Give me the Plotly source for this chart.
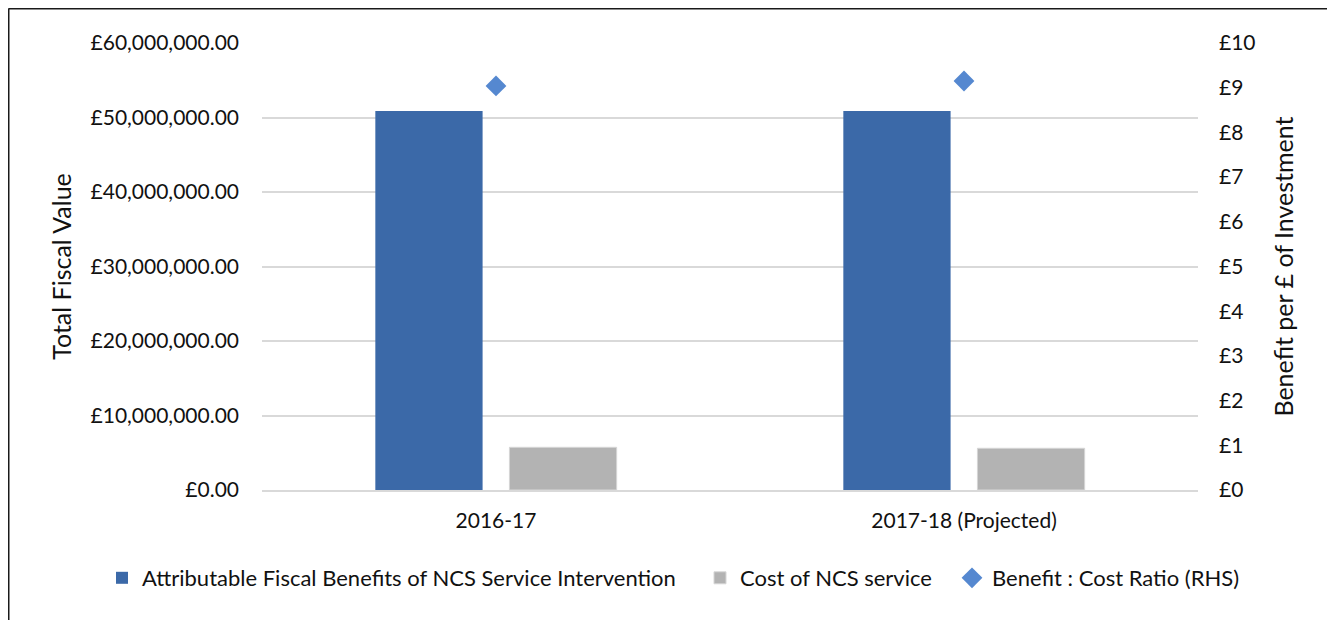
import plotly.graph_objects as go

categories = ["2016-17", "2017-18 (Projected)"]
benefits = [50870000, 50870000]
costs = [5730000, 5600000]
ratio = [9.04, 9.15]
left_ticks = [0, 10000000, 20000000, 30000000, 40000000, 50000000, 60000000]
left_labels = ["£0.00", "£10,000,000.00", "£20,000,000.00", "£30,000,000.00",
               "£40,000,000.00", "£50,000,000.00", "£60,000,000.00"]
right_ticks = list(range(0, 11))
right_labels = ["£" + str(v) for v in right_ticks]

# page has an 8px body margin; work in figure coordinates
OFF = 8
W, H = 1335 - OFF, 620 - OFF
ML, MT = 262 - OFF, 43 - OFF
PW, PH = 1198 - 262, 490 - 43
MR, MB = W - ML - PW, H - MT - PH

def px(x):
    return (x - OFF - ML) / PW

def py(y):
    return (MT + PH - (y - OFF)) / PH

FONT = "Lato"
TXT = "#111111"
FS = 21
LFS = 22
TFS = 25

fig = go.Figure()
fig.add_trace(go.Bar(x=categories, y=benefits, name="Attributable Fiscal Benefits of NCS Service Intervention",
                     marker=dict(color="#3b69a8", line=dict(width=0)), legend="legend"))
fig.add_trace(go.Bar(x=categories, y=costs, name="Cost of NCS service",
                     marker=dict(color="#b3b3b3", line=dict(color="#d6d6d6", width=1)), legend="legend2"))
fig.add_trace(go.Scatter(x=categories, y=ratio, name="Benefit : Cost Ratio (RHS)", mode="markers",
                         yaxis="y2", marker=dict(symbol="diamond", size=16, color="#5588d0"),
                         legend="legend3"))

legend_common = dict(orientation="h", yanchor="middle", y=py(578), xanchor="left",
                     font=dict(family=FONT, size=LFS, color=TXT), bgcolor="rgba(0,0,0,0)",
                     itemwidth=30, tracegroupgap=0, visible=True)

fig.update_layout(
    width=W, height=H,
    margin=dict(l=ML, r=MR, t=MT, b=MB, autoexpand=False),
    paper_bgcolor="white", plot_bgcolor="white",
    showlegend=True,
    barmode="group", bargap=0.427, bargroupgap=0.2,
    font=dict(family=FONT, size=FS, color=TXT),
    xaxis=dict(showgrid=False, showline=True, linecolor="#d9d9d9", linewidth=2,
               ticks="", ticklabelstandoff=11, tickfont=dict(family=FONT, size=FS, color=TXT)),
    yaxis=dict(range=[0, 60000000], tickvals=left_ticks, ticktext=left_labels,
               showgrid=True, gridcolor="#d9d9d9", gridwidth=2, zeroline=False,
               ticks="", ticklabelstandoff=22, automargin=False,
               title=dict(text="Total Fiscal Value", standoff=11,
                          font=dict(family=FONT, size=TFS, color=TXT)),
               tickfont=dict(family=FONT, size=FS, color=TXT)),
    yaxis2=dict(range=[0, 10], tickvals=right_ticks, ticktext=right_labels,
                overlaying="y", side="right", showgrid=False, zeroline=False,
                ticks="", ticklabelstandoff=20, automargin=False,
                title=dict(text="Benefit per £ of Investment", standoff=20,
                           font=dict(family=FONT, size=TFS, color=TXT)),
                tickfont=dict(family=FONT, size=FS, color=TXT)),
    legend=dict(legend_common, x=px(102)),
    legend2=dict(legend_common, x=px(700)),
    legend3=dict(legend_common, x=px(952)),
    shapes=[
        dict(type="line", xref="paper", yref="paper", x0=px(8.5), x1=px(1345), y0=py(8.5), y1=py(8.5),
             line=dict(color="#1a1a1a", width=2)),
        dict(type="line", xref="paper", yref="paper", x0=px(8.5), x1=px(8.5), y0=py(8.5), y1=py(630),
             line=dict(color="#1a1a1a", width=2)),
    ],
)

fig.write_html("out.html")
